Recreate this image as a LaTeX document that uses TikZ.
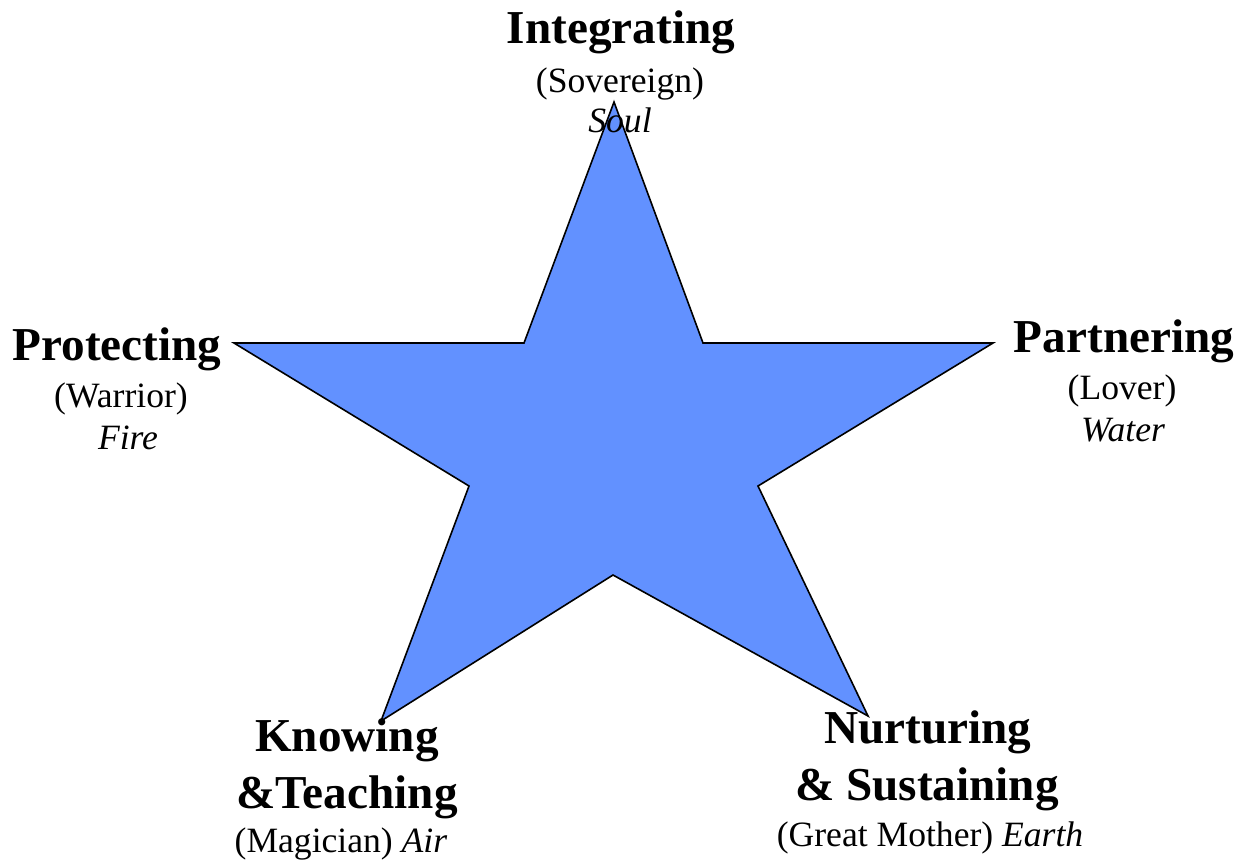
\documentclass[tikz,border=0pt]{standalone}
\usepackage{fontspec}
\setmainfont{Liberation Serif}
\definecolor{starblue}{RGB}{98,145,255}
\tikzset{
  head/.style={font=\fontsize{35.4}{40}\selectfont\bfseries, anchor=base, inner sep=0pt},
  sub/.style={font=\fontsize{26.7}{30}\selectfont, anchor=base, inner sep=0pt},
}
\begin{document}
\begin{tikzpicture}[x=0.75pt, y=-0.75pt]
\useasboundingbox (0,0) rectangle (1241,861);

% Star
\draw[fill=starblue, line width=1.2pt, line join=miter]
  (614,102) -- (703,343) -- (993,343) -- (758,486) -- (868,716)
  -- (613,575) -- (381,721) -- (469,486) -- (234,343) -- (524,343) -- cycle;

% Top
\node[head] (integ) at (621,43) {Integrating};
\node[sub] (sovereign) at (620,92) {(Sovereign)};
\node[sub] (soul) at (620,132) {\itshape Soul};

% Left
\node[head] (protect) at (117,360) {Protecting};
\node[sub] (warrior) at (121,407) {(Warrior)};
\node[sub] (fire) at (128,449) {\itshape Fire};

% Right
\node[head] (partner) at (1124,352) {Partnering};
\node[sub] (lover) at (1122,399) {(Lover)};
\node[sub] (water) at (1123,441) {\itshape Water};

% Bottom left
\node[head] (know) at (347,751) {Knowing};
\node[head] (teach) at (347,808) {\&Teaching};
\node[sub] (magician) at (341,852) {(Magician) \textit{Air}};

% Bottom right
\node[head] (nurture) at (928,743) {Nurturing};
\node[head] (sustain) at (927,800) {\& Sustaining};
\node[sub] (mother) at (930,846) {(Great Mother) \textit{Earth}};

\end{tikzpicture}
\end{document}
